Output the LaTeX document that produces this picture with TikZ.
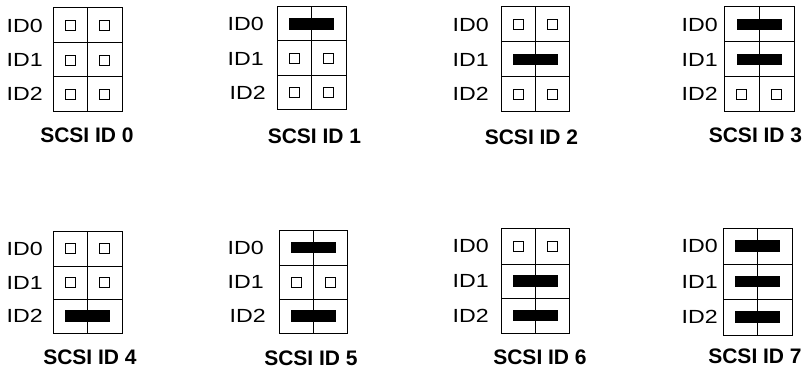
\documentclass[tikz,border=0pt]{standalone}
\usepackage{fontspec}
\setmainfont{Liberation Sans}
\usepackage{graphicx}
\tikzset{
  gridline/.style={draw=black, line width=1pt},
  idlabel/.style={inner sep=0pt, anchor=east, font=\fontsize{19}{20}\selectfont},
  jumper/.style={fill=black, draw=none, minimum width=45pt, minimum height=11.5pt, inner sep=0pt},
  pinbox/.style={draw=black, line width=0.7pt, minimum size=10pt, inner sep=0pt},
  titlelabel/.style={inner sep=0pt, font=\bfseries\fontsize{21}{24}\selectfont}
}
% #1 group, #2 row, #3 xl, #4 xr, #5 ytop, #6 ybot, #7 jumper?, #8 label right x
\newcommand\jrow[8]{%
  \pgfmathsetmacro\xm{(#3+#4)/2}%
  \pgfmathsetmacro\ym{(#5+#6)/2}%
  \pgfmathsetmacro\xa{(#3+\xm)/2}%
  \pgfmathsetmacro\xb{(#4+\xm)/2}%
  \draw[gridline] (#3,#5) rectangle (#4,#6);
  \draw[gridline] (\xm,#5) -- (\xm,#6);
  \node[idlabel] (g#1id#2) at (#8,\ym) {\scalebox{1.22}[1]{ID#2}};
  \ifnum#7=1
    \node[jumper] (g#1j#2) at (\xm,\ym) {};
  \else
    \node[pinbox] (g#1pa#2) at (\xa,\ym) {};
    \node[pinbox] (g#1pb#2) at (\xb,\ym) {};
  \fi
}
\begin{document}
\begin{tikzpicture}[x=1pt,y=-1pt]
\useasboundingbox (0,0) rectangle (806,369);
% SCSI ID 0
\jrow{0}{0}{53}{122}{8}{43}{0}{43}
\jrow{0}{1}{53}{122}{43}{77}{0}{43}
\jrow{0}{2}{53}{122}{77}{111}{0}{43}
\node[titlelabel] (t0) at (87,135.5) {SCSI ID 0};
% SCSI ID 1
\jrow{1}{0}{277}{346}{7}{41}{1}{264}
\jrow{1}{1}{277}{346}{41}{76}{0}{264}
\jrow{1}{2}{277}{346}{76}{109}{0}{266}
\node[titlelabel] (t1) at (314.5,136.5) {SCSI ID 1};
% SCSI ID 2
\jrow{2}{0}{501}{569}{7}{42}{0}{489}
\jrow{2}{1}{501}{569}{42}{77}{1}{489}
\jrow{2}{2}{501}{569}{77}{111}{0}{489}
\node[titlelabel] (t2) at (531.5,137) {SCSI ID 2};
% SCSI ID 3
\jrow{3}{0}{724}{794}{7}{42}{1}{718}
\jrow{3}{1}{724}{794}{42}{77}{1}{718}
\jrow{3}{2}{724}{794}{77}{111}{0}{718}
\node[titlelabel] (t3) at (755.5,135) {SCSI ID 3};
% SCSI ID 4
\jrow{4}{0}{53}{122}{231}{266}{0}{43}
\jrow{4}{1}{53}{122}{266}{299}{0}{43}
\jrow{4}{2}{53}{122}{299}{333}{1}{43}
\node[titlelabel] (t4) at (90,357.5) {SCSI ID 4};
% SCSI ID 5
\jrow{5}{0}{279}{347}{230}{265}{1}{264}
\jrow{5}{1}{279}{347}{265}{299}{0}{264}
\jrow{5}{2}{279}{347}{299}{333}{1}{266}
\node[titlelabel] (t5) at (311,358) {SCSI ID 5};
% SCSI ID 6
\jrow{6}{0}{501}{569}{228}{264}{0}{489}
\jrow{6}{1}{501}{569}{264}{298}{1}{489}
\jrow{6}{2}{501}{569}{298}{333}{1}{489}
\node[titlelabel] (t6) at (540,357.5) {SCSI ID 6};
% SCSI ID 7
\jrow{7}{0}{723}{792}{228}{264}{1}{718}
\jrow{7}{1}{723}{792}{264}{299}{1}{718}
\jrow{7}{2}{723}{792}{299}{335}{1}{718}
\node[titlelabel] (t7) at (755,356) {SCSI ID 7};
\end{tikzpicture}
\end{document}
